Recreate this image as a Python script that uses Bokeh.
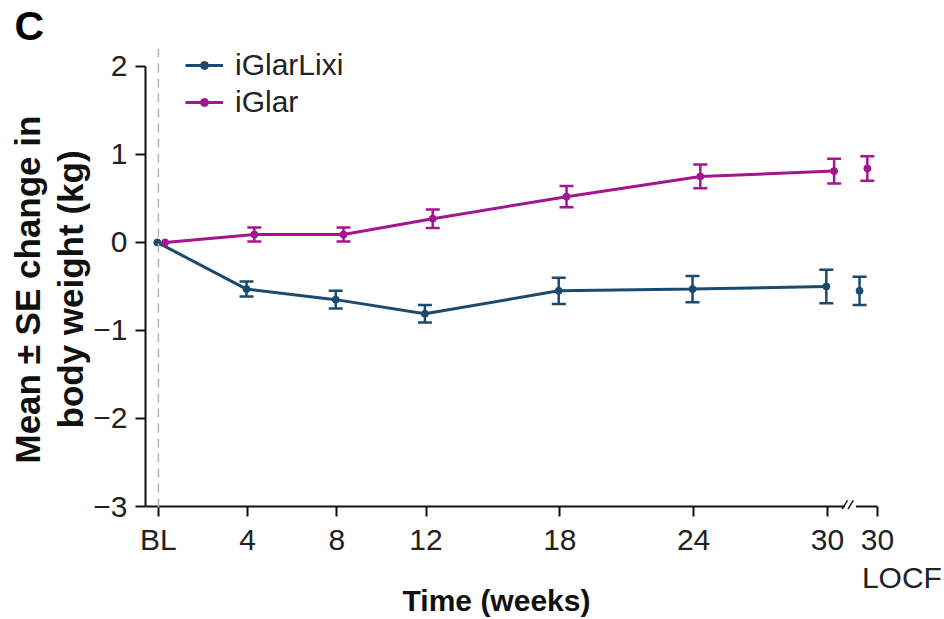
from bokeh.plotting import figure
from bokeh.models import (ColumnDataSource, Whisker, TeeHead, Span, Title,
                          Legend, LegendItem, FixedTicker, LinearAxis)
from bokeh.embed import file_html
from bokeh.resources import INLINE

# ---- data: mean ± SE change in body weight (kg) ----
weeks = [0, 4, 8, 12, 18, 24, 30]
tick_labels = ["BL", "4", "8", "12", "18", "24", "30"]

lixi_mean = [0.0, -0.53, -0.65, -0.81, -0.55, -0.53, -0.50]
lixi_se = [0.0, 0.085, 0.10, 0.10, 0.15, 0.15, 0.19]
glar_mean = [0.0, 0.09, 0.09, 0.27, 0.52, 0.75, 0.81]
glar_se = [0.0, 0.08, 0.08, 0.105, 0.12, 0.135, 0.14]

# week-30 LOCF values
lixi_locf_mean = -0.55
lixi_locf_se = 0.16
glar_locf_mean = 0.84
glar_locf_se = 0.14

# ---- layout / style constants ----
X_START, X_END = -0.58, 35.07
Y_START, Y_END = -3.034, 2.203
LOCF_POS = 32.24          # axis position of the "30 LOCF" slot
LOCF_TEXT_POS = 33.34     # centre of the "LOCF" caption
XLABEL_POS = 15.16        # centre of the x-axis title
BREAK_LO, BREAK_HI = 30.78, 31.28
LOCF_SHIFT = -0.75        # LOCF points sit just left of their tick
DODGE_LIXI = -0.05
DODGE_GLAR = 0.30
BLUE = "#1b4a6e"
MAGENTA = "#a3168f"
INK = "#111111"
FONT = "Liberation Sans"

p = figure(width=944, height=619, output_backend="svg", toolbar_location=None,
           x_range=(X_START, X_END), y_range=(Y_START, Y_END),
           min_border_left=145, min_border_right=4,
           min_border_top=46, min_border_bottom=109)
p.outline_line_color = None
p.xgrid.visible = False
p.ygrid.visible = False
p.background_fill_color = "white"
p.border_fill_color = "white"

# panel letter
p.add_layout(Title(text="C", align="left", offset=-131, standoff=0,
                   text_font=FONT, text_font_size="41px",
                   text_font_style="bold", text_color="#000000"), "above")

# baseline reference line
p.add_layout(Span(location=0, dimension="height", line_color="#b5b5b5",
                  line_width=1.5, line_dash="9 6"))

# x-axis baseline with a break before the LOCF slot
p.segment(x0=[X_START, BREAK_HI], y0=[-3, -3], x1=[BREAK_LO, LOCF_POS],
          y1=[-3, -3], line_color=INK, line_width=2)
p.segment(x0=[BREAK_LO - 0.12, BREAK_LO + 0.14],
          y0=[-3.03, -3.03],
          x1=[BREAK_LO + 0.12, BREAK_LO + 0.38],
          y1=[-2.93, -2.93], line_color=INK, line_width=1.5)


def series(mean, se, locf_mean, locf_se, dodge, color):
    xs = [w + dodge for w in weeks]
    src = ColumnDataSource(dict(x=xs, y=mean))
    line_r = p.line("x", "y", source=src, line_color=color, line_width=3)
    dot_r = p.scatter("x", "y", source=src, marker="circle", size=7,
                      fill_color=color, line_color=color)
    locf_x = LOCF_POS + LOCF_SHIFT + dodge
    ex = [x for x, s in zip(xs, se) if s > 0] + [locf_x]
    ey = [m for m, s in zip(mean, se) if s > 0] + [locf_mean]
    es = [s for s in se if s > 0] + [locf_se]
    esrc = ColumnDataSource(dict(x=ex, lo=[m - s for m, s in zip(ey, es)],
                                 hi=[m + s for m, s in zip(ey, es)]))
    p.add_layout(Whisker(source=esrc, base="x", lower="lo", upper="hi",
                         line_color=color, line_width=2.5,
                         upper_head=TeeHead(size=14, line_color=color, line_width=2.5),
                         lower_head=TeeHead(size=14, line_color=color, line_width=2.5)))
    p.scatter([locf_x], [locf_mean], marker="circle", size=7,
              fill_color=color, line_color=color)
    return line_r, dot_r


lixi_line, lixi_dot = series(lixi_mean, lixi_se, lixi_locf_mean, lixi_locf_se,
                             DODGE_LIXI, BLUE)
glar_line, glar_dot = series(glar_mean, glar_se, glar_locf_mean, glar_locf_se,
                             DODGE_GLAR, MAGENTA)

# ---- y axis ----
yax = p.yaxis[0]
yax.bounds = (-3, 2)
yax.ticker = FixedTicker(ticks=[-3, -2, -1, 0, 1, 2])
yax.major_label_overrides = {-3: "\u22123", -2: "\u22122", -1: "\u22121",
                             0: "0", 1: "1", 2: "2"}
yax.axis_line_color = INK
yax.axis_line_width = 2
yax.major_tick_out = 10
yax.major_tick_in = 0
yax.major_label_standoff = 8

# two-line y-axis title, bottom-anchored so it sits a little below centre
for text, off in (("body weight (kg)", 81), ("Mean \u00b1 SE change in", 46)):
    p.add_layout(Title(text=text, align="left", offset=off, standoff=2,
                       text_font=FONT, text_font_size="35px",
                       text_font_style="bold", text_color=INK), "left")

# ---- x axis: week ticks ----
xax = p.xaxis[0]
xax.ticker = FixedTicker(ticks=weeks + [LOCF_POS])
xax.major_label_overrides = {**{w: t for w, t in zip(weeks, tick_labels)},
                             LOCF_POS: "30"}
xax.axis_line_color = None
xax.major_tick_out = 7
xax.major_tick_in = 3
xax.major_label_standoff = 6

# caption row under the LOCF tick
locf_ax = LinearAxis(ticker=FixedTicker(ticks=[LOCF_TEXT_POS]),
                     major_label_overrides={LOCF_TEXT_POS: "LOCF"},
                     major_label_standoff=2)
# x-axis title row
title_ax = LinearAxis(ticker=FixedTicker(ticks=[XLABEL_POS]),
                      major_label_overrides={XLABEL_POS: "Time (weeks)"},
                      major_label_standoff=-13,
                      major_label_text_font_style="bold")
for ax in (locf_ax, title_ax):
    ax.axis_line_color = None
    ax.major_tick_out = 0
    ax.major_tick_in = 0
    p.add_layout(ax, "below")

for ax in (xax, yax, locf_ax, title_ax):
    ax.major_tick_line_color = INK if ax in (xax, yax) else None
    ax.major_tick_line_width = 2
    ax.minor_tick_line_color = None
    ax.major_label_text_font = FONT
    ax.major_label_text_font_size = "30px"
    ax.major_label_text_color = "#222222"
title_ax.major_label_text_color = INK

# ---- legend ----
legend = Legend(items=[LegendItem(label="iGlarLixi", renderers=[lixi_line, lixi_dot]),
                       LegendItem(label="iGlar", renderers=[glar_line, glar_dot])],
                location=(40, 390), padding=0, margin=0, spacing=3,
                glyph_width=38, glyph_height=20, label_standoff=12,
                label_text_font=FONT, label_text_font_size="30px",
                label_text_color="#222222",
                border_line_color=None, background_fill_alpha=0)
p.add_layout(legend)

open("out.html", "w").write(file_html(p, INLINE))
